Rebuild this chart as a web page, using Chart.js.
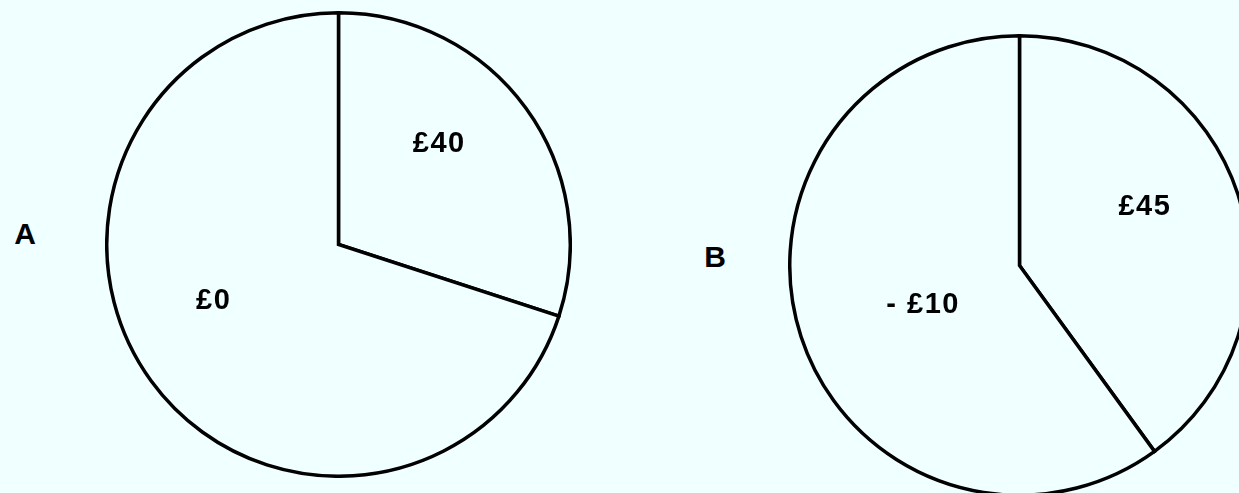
<!DOCTYPE html>
<html>
<head>
<meta charset="utf-8">
<script src="https://cdn.jsdelivr.net/npm/chart.js@4/dist/chart.umd.min.js"></script>
<style>
  html, body { margin:0; padding:0; width:1239px; height:493px; overflow:hidden; background:#F0FFFF; }
  .wrap { position:absolute; }
  .lbl { position:absolute; font-family:"Liberation Sans", Arial, sans-serif; font-weight:bold; font-size:30px; color:#000; line-height:1; transform:translate(-50%,-50%); }
</style>
</head>
<body>
<div class="lbl" style="left:25px; top:234px;">A</div>
<div class="lbl" style="left:715px; top:257px;">B</div>
<div class="wrap" id="wa"><canvas id="ca"></canvas></div>
<div class="wrap" id="wb"><canvas id="cb"></canvas></div>
<script>
// Data
const chartNames = ['A', 'B'];
const labelsA = ['£40', '£0'];
const sharesA = [30, 70];
const labelsB = ['£45', '- £10'];
const sharesB = [40, 60];

// Layout (not data)
const layout = {
  A: { cx: 338, cy: 244, r: 231.5, labelPos: [{ang: 44.3, f: 0.618}, {ang: 246.7, f: 0.59}] },
  B: { cx: 1019, cy: 265, r: 229.5, labelPos: [{ang: 63.9, f: 0.604}, {ang: 249, f: 0.453}] }
};
const BW = 3.5;
const FONT_PX = 29;

const sliceLabelPlugin = {
  id: 'sliceLabels',
  afterDatasetsDraw(chart, args, opts) {
    const ctx = chart.ctx;
    const meta = chart.getDatasetMeta(0);
    const labels = chart.data.labels;
    ctx.save();
    ctx.font = 'bold ' + FONT_PX + 'px "Liberation Sans", Arial, sans-serif';
    ctx.letterSpacing = '1.5px';
    ctx.fillStyle = '#000';
    ctx.textAlign = 'center';
    ctx.textBaseline = 'alphabetic';
    meta.data.forEach((arc, i) => {
      const p = opts.pos[i];
      const a = (p.ang - 90) * Math.PI / 180;
      const rr = arc.outerRadius * p.f;
      const x = arc.x + Math.cos(a) * rr;
      const y = arc.y + Math.sin(a) * rr;
      ctx.fillText(labels[i], x + 0.75, y + 0.358 * FONT_PX);
    });
    ctx.restore();
  }
};

function makePie(wrapId, canvasId, labels, values, L) {
  const size = Math.round(2 * L.r + BW);
  const wrap = document.getElementById(wrapId);
  wrap.style.left = (L.cx - size / 2) + 'px';
  wrap.style.top = (L.cy - size / 2) + 'px';
  wrap.style.width = size + 'px';
  wrap.style.height = size + 'px';
  const cv = document.getElementById(canvasId);
  cv.width = size; cv.height = size;
  new Chart(cv, {
    type: 'pie',
    data: {
      labels: labels,
      datasets: [{
        data: values,
        backgroundColor: '#F0FFFF',
        borderColor: '#000000',
        borderWidth: BW,
        borderJoinStyle: 'miter'
      }]
    },
    options: {
      responsive: false,
      animation: false,
      events: [],
      layout: { padding: 0 },
      plugins: {
        legend: { display: false },
        tooltip: { enabled: false },
        sliceLabels: { pos: L.labelPos }
      }
    },
    plugins: [sliceLabelPlugin]
  });
}

makePie('wa', 'ca', labelsA, sharesA, layout.A);
makePie('wb', 'cb', labelsB, sharesB, layout.B);
</script>
</body>
</html>
